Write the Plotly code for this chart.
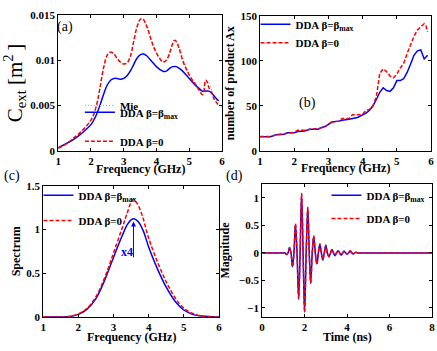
import plotly.graph_objects as go

# ---------------- data ----------------
# (a) extinction cross-section vs frequency
fa_blue = [1.0, 1.2, 1.4, 1.6, 1.8, 2.0, 2.1, 2.2, 2.3, 2.4, 2.5, 2.6, 2.7, 2.8, 2.9, 3.0, 3.1, 3.2, 3.3, 3.4,
           3.5, 3.6, 3.7, 3.8, 3.9, 4.0, 4.1, 4.2, 4.3, 4.4, 4.5, 4.6, 4.7, 4.8, 4.9, 5.0, 5.1, 5.2, 5.3,
           5.4, 5.5, 5.6, 5.7, 5.8, 5.9]
ca_blue = [0.00035, 0.0007, 0.0011, 0.0016, 0.0022, 0.0029, 0.0035, 0.0043, 0.0053, 0.0064, 0.0073, 0.0078,
           0.0080, 0.0080, 0.0079, 0.0080, 0.0083, 0.0088, 0.0095, 0.0102, 0.0106, 0.0107, 0.0105, 0.0101,
           0.0097, 0.0093, 0.0090, 0.0088, 0.0088, 0.0091, 0.0093, 0.0093, 0.0091, 0.0088, 0.0084, 0.0080,
           0.0076, 0.0072, 0.0069, 0.0066, 0.0066, 0.0066, 0.0063, 0.0059, 0.0055]
fa_red = [1.0, 1.2, 1.4, 1.6, 1.8, 2.0, 2.1, 2.2, 2.3, 2.4, 2.5, 2.6, 2.7, 2.8, 2.9, 3.0, 3.1, 3.2, 3.3, 3.4,
          3.5, 3.55, 3.6, 3.7, 3.8, 3.9, 4.0, 4.1, 4.2, 4.3, 4.4, 4.5, 4.55, 4.6, 4.7, 4.8, 4.9, 5.0, 5.1,
          5.2, 5.3, 5.4, 5.45, 5.5, 5.55, 5.6, 5.7, 5.75, 5.8, 5.9]
ca_red = [0.0003, 0.0007, 0.0012, 0.0018, 0.0025, 0.0034, 0.0042, 0.0055, 0.0075, 0.0094, 0.0106, 0.0109,
          0.0107, 0.0102, 0.0098, 0.0096, 0.0097, 0.0104, 0.0120, 0.0136, 0.0145, 0.0146, 0.0145, 0.0138,
          0.0127, 0.0116, 0.0108, 0.0102, 0.0098, 0.0100, 0.0108, 0.0119, 0.0122, 0.0121, 0.0112, 0.0100,
          0.0091, 0.0084, 0.0078, 0.0073, 0.0067, 0.0062, 0.0066, 0.0078, 0.0076, 0.0070, 0.0063, 0.0058,
          0.0055, 0.0050]
fa_mie = [1.0, 1.2, 1.4, 1.6, 1.8, 2.0, 2.1, 2.2, 2.3, 2.4, 2.5, 2.6, 2.7, 2.8, 2.9, 3.0, 3.1, 3.2, 3.3, 3.4,
          3.5, 3.55, 3.6, 3.7, 3.8, 3.9, 4.0, 4.1, 4.2, 4.3, 4.4, 4.5, 4.6, 4.7, 4.8, 4.9, 5.0, 5.1, 5.2,
          5.3, 5.4, 5.5, 5.6, 5.7, 5.8, 5.9, 6.0]
ca_mie = [0.0003, 0.0007, 0.0012, 0.0018, 0.0025, 0.0034, 0.0042, 0.0055, 0.0075, 0.0094, 0.0106, 0.0109,
          0.0107, 0.0102, 0.0098, 0.0096, 0.0097, 0.0104, 0.0120, 0.0136, 0.0145, 0.0146, 0.0145, 0.0138,
          0.0127, 0.0116, 0.0108, 0.0102, 0.0098, 0.0100, 0.0107, 0.0117, 0.0120, 0.0114, 0.0103, 0.0093,
          0.0085, 0.0079, 0.0073, 0.0068, 0.0064, 0.0077, 0.0075, 0.0066, 0.0058, 0.0052, 0.0048]

# (b) number of product Ax vs frequency
fb_blue = [1.0, 1.3, 1.4, 1.5, 1.7, 1.8, 2.0, 2.1, 2.3, 2.45, 2.7, 2.8, 2.9, 3.0, 3.1, 3.3, 3.4, 3.6, 3.7,
           3.85, 4.0, 4.1, 4.2, 4.3, 4.4, 4.5, 4.6, 4.7, 4.8, 4.9, 5.0, 5.1, 5.2, 5.3, 5.4, 5.5, 5.6, 5.7,
           5.8, 5.9]
nb_blue = [15.8, 15.8, 17, 18, 18.5, 20, 20, 21.5, 22, 24, 24, 26, 27, 30, 32, 33, 34, 35, 36, 37, 40, 42,
           45, 50, 57, 65, 70, 67, 66, 70, 78, 78, 80, 87, 96, 106, 111, 112, 102, 106]
fb_red = [1.0, 1.3, 1.5, 1.8, 2.0, 2.1, 2.3, 2.5, 2.75, 2.9, 3.0, 3.1, 3.3, 3.4, 3.6, 3.7, 3.9, 4.0, 4.1,
          4.2, 4.3, 4.4, 4.5, 4.6, 4.7, 4.8, 4.9, 5.0, 5.1, 5.2, 5.3, 5.4, 5.5, 5.6, 5.7, 5.8, 5.85, 5.9]
nb_red = [16, 16, 18, 20, 20.5, 23, 23, 24, 25, 27, 30, 32, 33, 36, 36, 40, 40, 41, 45, 46, 50, 60, 86, 91,
          88, 83, 81, 85, 92, 97, 108, 118, 127, 134, 137, 141, 139, 132]

# (c) spectrum vs frequency
fc_blue = [1.0, 1.5, 1.75, 2.0, 2.25, 2.5, 2.75, 3.0, 3.25, 3.4, 3.5, 3.6, 3.7, 3.85, 4.0, 4.25, 4.5, 4.75,
           5.0, 5.25, 5.5, 6.0]
sc_blue = [0, 0, 0.005, 0.03, 0.09, 0.21, 0.42, 0.68, 0.93, 1.06, 1.11, 1.12, 1.09, 0.98, 0.80, 0.55, 0.34,
           0.18, 0.08, 0.03, 0.01, 0]
fc_red = [1.0, 1.5, 1.75, 2.0, 2.25, 2.5, 2.75, 3.0, 3.25, 3.4, 3.5, 3.55, 3.65, 3.8, 4.0, 4.25, 4.5, 4.75,
          5.0, 5.25, 5.5, 6.0]
sc_red = [0, 0, 0.006, 0.035, 0.10, 0.23, 0.45, 0.73, 1.02, 1.20, 1.31, 1.34, 1.31, 1.18, 0.90, 0.63, 0.40,
          0.22, 0.10, 0.04, 0.012, 0]

# (d) time-domain magnitude
td = [0, 1.0, 1.08, 1.15, 1.22, 1.29, 1.36, 1.43, 1.50, 1.57, 1.645, 1.72, 1.79, 1.86, 1.93, 2.0, 2.075,
      2.15, 2.22, 2.29, 2.36, 2.43, 2.505, 2.58, 2.65, 2.72, 2.79, 2.86, 2.93, 3.0, 3.07, 3.15, 3.22, 3.29,
      3.36, 3.43, 3.5, 3.58, 3.65, 3.72, 3.79, 3.86, 3.93, 4.0, 4.07, 4.15, 4.22, 4.29, 4.36, 4.43, 4.5,
      5.0, 8.0]
md_blue = [0, 0, 0, -0.03, 0, 0.10, 0, -0.25, 0, 0.52, 0, -0.83, 0, 1.07, 0, -1.08, 0, 0.82, 0, -0.55, 0,
           0.30, 0, -0.20, 0, 0.16, 0, -0.13, 0, 0.14, 0, -0.07, 0, 0.06, 0, -0.05, 0, 0.04, 0, -0.04, 0,
           0.03, 0, -0.02, 0, 0.04, 0, -0.02, 0, 0.01, 0, 0, 0]
md_red = [0, 0, 0, -0.03, 0, 0.10, 0, -0.25, 0, 0.53, 0, -0.84, 0, 1.08, 0, -1.08, 0, 0.83, 0, -0.55, 0,
          0.31, 0, -0.21, 0, 0.16, 0, -0.13, 0, 0.14, 0, -0.07, 0, 0.06, 0, -0.05, 0, 0.04, 0, -0.04, 0,
          0.03, 0, -0.02, 0, 0.04, 0, -0.02, 0, 0.01, 0, 0, 0]

# ---------------- figure ----------------
W, H = 437, 351
FONT = "Liberation Serif"
BLUE = "#0000ff"
RED = "#ff0000"
GRAY = "#a8a8a8"
LBL_MAX = "<b>DDA β=β<sub>max</sub></b>"
LBL_0 = "<b>DDA β=0</b>"


def px_x(p):
    return p / W


def px_y(p):
    return 1 - p / H


fig = go.Figure()

# (a)
fig.add_trace(go.Scatter(x=fa_mie, y=ca_mie, mode="lines", name="<b>Mie</b>", legend="legend",
                         showlegend=True,
                         line=dict(color=GRAY, width=1.2, dash="1px,2px", shape="spline"),
                         xaxis="x", yaxis="y"))
fig.add_trace(go.Scatter(x=fa_blue, y=ca_blue, mode="lines", name=LBL_MAX, legend="legend5",
                         showlegend=True,
                         line=dict(color=BLUE, width=1.5, shape="spline"), xaxis="x", yaxis="y"))
fig.add_trace(go.Scatter(x=fa_red, y=ca_red, mode="lines", name=LBL_0, legend="legend6",
                         showlegend=True,
                         line=dict(color=RED, width=1.5, dash="4px,2px", shape="spline"),
                         xaxis="x", yaxis="y"))
# (b)
fig.add_trace(go.Scatter(x=fb_blue, y=nb_blue, mode="lines", name=LBL_MAX, legend="legend2",
                         showlegend=True,
                         line=dict(color=BLUE, width=1.5), xaxis="x2", yaxis="y2"))
fig.add_trace(go.Scatter(x=fb_red, y=nb_red, mode="lines", name=LBL_0, legend="legend7",
                         showlegend=True,
                         line=dict(color=RED, width=1.5, dash="4px,2px"), xaxis="x2", yaxis="y2"))
# (c)
fig.add_trace(go.Scatter(x=fc_blue, y=sc_blue, mode="lines", name=LBL_MAX, legend="legend3",
                         showlegend=True,
                         line=dict(color=BLUE, width=1.5, shape="spline"), xaxis="x3", yaxis="y3"))
fig.add_trace(go.Scatter(x=fc_red, y=sc_red, mode="lines", name=LBL_0, legend="legend8",
                         showlegend=True,
                         line=dict(color=RED, width=1.5, dash="4px,2px", shape="spline"),
                         xaxis="x3", yaxis="y3"))
# (d)
fig.add_trace(go.Scatter(x=td, y=md_blue, mode="lines", name=LBL_MAX, legend="legend4",
                         showlegend=True,
                         line=dict(color=BLUE, width=1.5, shape="spline"), xaxis="x4", yaxis="y4"))
fig.add_trace(go.Scatter(x=td, y=md_red, mode="lines", name=LBL_0, legend="legend9",
                         showlegend=True,
                         line=dict(color=RED, width=1.5, dash="4px,2px", shape="spline"),
                         xaxis="x4", yaxis="y4"))

tickfont = dict(family=FONT, size=11, color="black", weight="bold")
titlefont = dict(family=FONT, size=12, color="black", weight="bold")


def ax(domain, rng, dtick, anchor, title="", standoff=0, tfont=titlefont):
    return dict(domain=domain, range=rng, dtick=dtick, tick0=0, showline=True, linecolor="black",
                linewidth=1, mirror="ticks", ticks="inside", ticklen=3, tickcolor="black",
                showgrid=False, zeroline=False, tickfont=tickfont, anchor=anchor,
                title=dict(text=title, font=tfont, standoff=standoff))


fig.update_layout(
    width=W, height=H, margin=dict(l=0, r=0, t=0, b=0),
    paper_bgcolor="white", plot_bgcolor="white", showlegend=True,
    font=dict(family=FONT, color="black"),
    xaxis=ax([px_x(56), px_x(222)], [1, 6], 1, "y"),
    yaxis=ax([px_y(150), px_y(9.3)], [0, 0.015], 0.005, "x", "C<sub>ext</sub> [m<sup>2 </sup>]", 7,
             tfont=dict(family=FONT, size=21, color="black")),
    xaxis2=ax([px_x(260.7), px_x(434)], [1, 6], 1, "y2"),
    yaxis2=ax([px_y(150), px_y(10)], [0, 150], 50, "x2", "number of product Ax", 3),
    xaxis3=ax([px_x(40.7), px_x(219)], [1, 6], 1, "y3"),
    yaxis3=ax([px_y(322), px_y(186)], [0, 1.5], 0.5, "x3", "Spectrum", 2),
    xaxis4=ax([px_x(262.7), px_x(435)], [0, 8], 2, "y4"),
    yaxis4=ax([px_y(321.7), px_y(184.5)], [-1.16, 1.25], 0.5, "x4", "Magnitude", 6),
)

# x-axis titles as centred texts below each panel
for txt, xc, yc in [("Frequency (GHz)", 139, 169), ("Frequency (GHz)", 347.5, 168),
                    ("Frequency (GHz)", 130, 343), ("Time (ns)", 349, 343)]:
    fig.add_annotation(x=px_x(xc), y=px_y(yc), xref="paper", yref="paper", text="<b>%s</b>" % txt,
                       showarrow=False, xanchor="center", yanchor="middle",
                       font=dict(family=FONT, size=12, color="black"))

# one legend box per entry so every entry sits where the reference has it
legfont = dict(family=FONT, size=11, color="black")
common_leg = dict(bgcolor="rgba(0,0,0,0)", borderwidth=0, font=legfont, xanchor="left", yanchor="top",
                  itemwidth=30, visible=True)
# (legend id, left px, top px)
LEG_POS = [("legend", 78, 88), ("legend5", 78, 95), ("legend6", 78, 125),
           ("legend2", 256, 4), ("legend7", 256, 23),
           ("legend3", 36, 181), ("legend8", 36, 207),
           ("legend4", 328, 181), ("legend9", 328, 205)]
fig.update_layout(**{lid: dict(x=px_x(lx), y=px_y(ly), **common_leg) for lid, lx, ly in LEG_POS})

# arrow and "x4" in (c)
fig.add_annotation(x=3.57, y=1.09, ax=3.57, ay=0.665, xref="x3", yref="y3", axref="x3", ayref="y3",
                   text="", showarrow=True, arrowhead=2, arrowsize=1, arrowwidth=1, arrowcolor=BLUE)
fig.add_annotation(x=3.38, y=0.74, xref="x3", yref="y3", text="<b>x4</b>", showarrow=False,
                   xanchor="center", yanchor="middle", font=dict(family=FONT, size=12, color=BLUE))

# panel labels
for lab, xp, yp in [("(a)", 63, 22), ("(b)", 309, 100), ("(c)", 9, 176), ("(d)", 235, 176)]:
    fig.add_annotation(x=px_x(xp), y=px_y(yp), xref="paper", yref="paper", text=lab, showarrow=False,
                       xanchor="center", yanchor="middle",
                       font=dict(family=FONT, size=14, color="black"))

fig.write_html("out.html", config={"displayModeBar": False},
               post_script="document.body.style.margin='0px';document.body.style.overflow='hidden';")
